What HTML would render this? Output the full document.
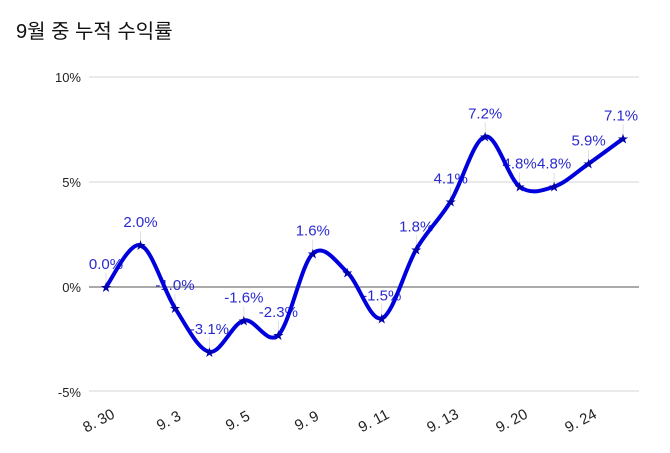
<!DOCTYPE html>
<html><head><meta charset="utf-8"><style>
html,body{margin:0;padding:0;background:#fff;}
svg{display:block;font-family:"Liberation Sans","Noto Sans CJK KR",sans-serif;}
</style></head><body>
<svg id="s" width="670" height="453" viewBox="0 0 670 453" xmlns="http://www.w3.org/2000/svg">
<text x="16" y="38" font-size="20" fill="#111" font-family="Liberation Sans, Noto Sans CJK KR, sans-serif">9월 중 누적 수익률</text>
<g stroke="#d6d6d6" stroke-width="1">
<line x1="89" y1="77" x2="639" y2="77"/>
<line x1="89" y1="182" x2="639" y2="182"/>
<line x1="89" y1="391" x2="639" y2="391"/>
</g>
<line x1="89" y1="287" x2="639" y2="287" stroke="#777" stroke-width="1.3"/>
<g font-size="13" fill="#222" text-anchor="end">
<text x="81" y="82">10%</text>
<text x="81" y="187">5%</text>
<text x="81" y="292">0%</text>
<text x="81" y="397">-5%</text>
</g>
<g font-size="15" fill="#222" text-anchor="middle">
<text transform="translate(101,425) rotate(-28)">8. 30</text>
<text transform="translate(171,425) rotate(-28)">9. 3</text>
<text transform="translate(240,425) rotate(-28)">9. 5</text>
<text transform="translate(309,425) rotate(-28)">9. 9</text>
<text transform="translate(376,425) rotate(-28)">9. 11</text>
<text transform="translate(445,425) rotate(-28)">9. 13</text>
<text transform="translate(514,425) rotate(-28)">9. 20</text>
<text transform="translate(583,425) rotate(-28)">9. 24</text>
</g>
<g id="lbl"></g>
<path id="curve" fill="none" stroke="#0000dd" stroke-width="4" stroke-linejoin="round" stroke-linecap="round"/>
<g id="pts"></g>
</svg>
<script>
var v=[0,2.0,-1.0,-3.1,-1.6,-2.3,1.6,0.7,-1.5,1.8,4.1,7.2,4.8,4.8,5.9,7.1];
var show=[1,1,1,1,1,1,1,0,1,1,1,1,1,1,1,1];
var P=v.map(function(a,i){return [106+i*34.47,287-20.9*a];});
var d="M"+P[0][0]+","+P[0][1];
for(var i=0;i<P.length-1;i++){
 var p0=P[Math.max(i-1,0)],p1=P[i],p2=P[i+1],p3=P[Math.min(i+2,P.length-1)];
 var c1=[p1[0]+(p2[0]-p0[0])/6,p1[1]+(p2[1]-p0[1])/6];
 var c2=[p2[0]-(p3[0]-p1[0])/6,p2[1]-(p3[1]-p1[1])/6];
 d+=" C"+c1+" "+c2+" "+p2;
}
document.getElementById("curve").setAttribute("d",d);
var ns="http://www.w3.org/2000/svg",L=document.getElementById("lbl"),G=document.getElementById("pts");
P.forEach(function(p,i){
 var s=document.createElementNS(ns,"text");
 s.setAttribute("x",p[0]+(i==15?-2:0));s.setAttribute("y",p[1]-18);
 s.setAttribute("text-anchor","middle");s.setAttribute("font-size","15");s.setAttribute("fill","#2a2ad0");
 s.textContent=v[i].toFixed(1)+"%";
 var ln=document.createElementNS(ns,"line");
 ln.setAttribute("x1",p[0]);ln.setAttribute("x2",p[0]);ln.setAttribute("y1",p[1]-14);ln.setAttribute("y2",p[1]);
 ln.setAttribute("stroke","#ccc");ln.setAttribute("stroke-width","0.6");
 if(show[i]){L.appendChild(ln);L.appendChild(s);}
 var st=document.createElementNS(ns,"text");
 st.setAttribute("x",p[0]);st.setAttribute("y",p[1]+4);st.setAttribute("text-anchor","middle");
 st.setAttribute("font-size","11");st.setAttribute("fill","#0000aa");st.textContent="★";
 G.appendChild(st);
});
</script>
</body></html>
